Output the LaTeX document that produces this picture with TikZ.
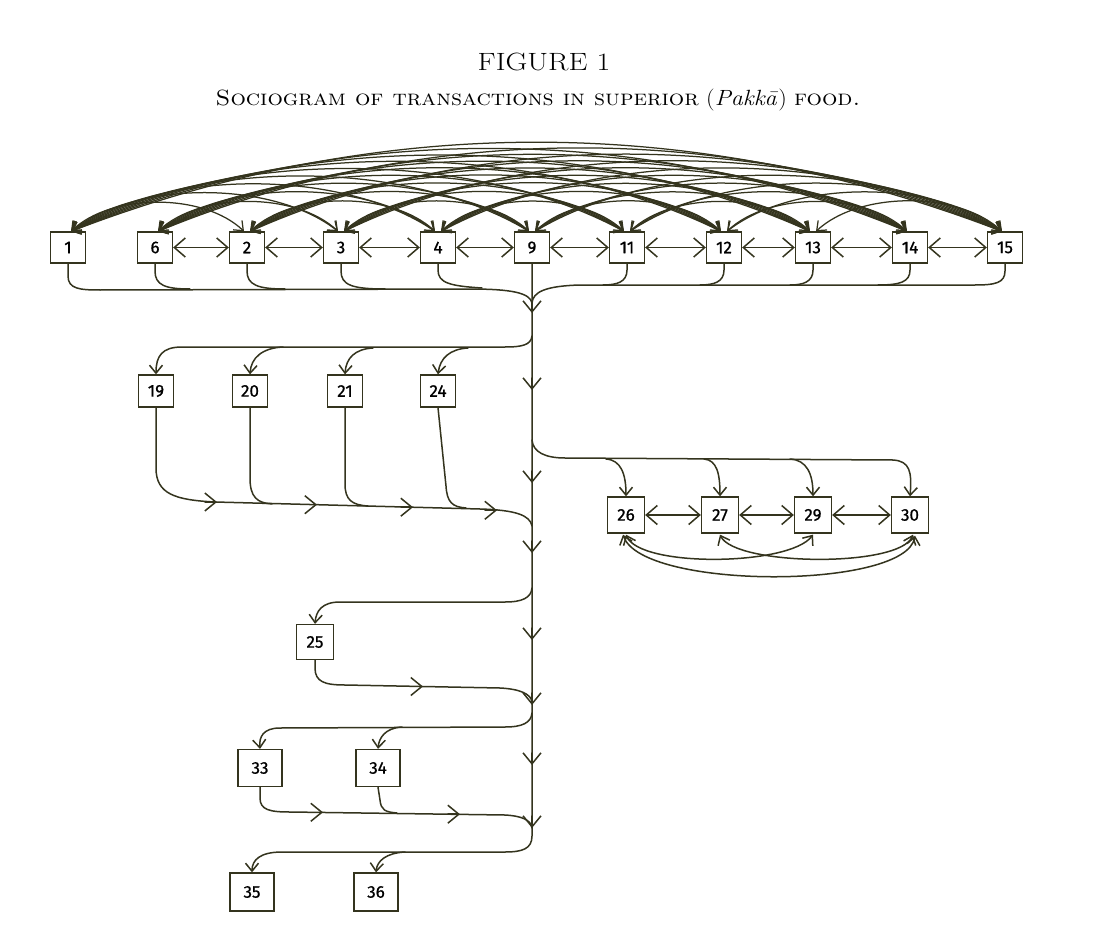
\documentclass[tikz,border=0pt]{standalone}
\usepackage{fontspec}
\newfontfamily\numfont{Fira Sans}[FakeBold=0.8]
\usetikzlibrary{arrows.meta,calc}
\definecolor{ink}{RGB}{52,52,30}
\begin{document}
\begin{tikzpicture}[x=1pt,y=-1pt,
  line/.style={draw=ink,line width=1.5pt,line cap=round,line join=round},
  arcline/.style={draw=ink,line width=1.25pt,line cap=round},
  et/.tip={Straight Barb[length=8pt,width=13pt]},
  mt/.tip={Straight Barb[length=11pt,width=18pt]},
  dt/.tip={Straight Barb[length=11pt,width=19pt]},
  box/.style={draw=ink,line width=1.3pt,minimum width=35pt,minimum height=32pt,inner sep=0pt,
    font=\numfont\fontsize{17}{17}\selectfont,text=black},
  tbox/.style={box,minimum height=31pt},
  mbox/.style={box,minimum width=37pt,minimum height=36pt},
  bbox/.style={box,minimum width=44pt,minimum height=37pt}]
\useasboundingbox[fill=white] (0,0) rectangle (1108,952);

% titles
\node[font=\fontsize{25}{25}\selectfont,text=black] (title) at (544,62) {\scalebox{1.2}[1]{FIGURE 1}};
\node[font=\fontsize{22}{22}\selectfont,text=black] (caption) at (538,100)
  {\scalebox{1.1}[1]{\textsc{Sociogram of transactions in superior} (\textit{Pakkā}) \textsc{food.}}};

% top row
\foreach \xx/\ll/\nn in {68/1/0,155/6/1,247/2/2,341/3/3,438/4/4,532/9/5,627/11/6,724/12/7,813/13/8,910/14/9,1005/15/10}
  \node[tbox] (t\nn) at (\xx,247.5) {\ll};

% second row
\node[box] (n19) at (156,391) {19};
\node[box] (n20) at (250,391) {20};
\node[box] (n21) at (345,391) {21};
\node[box] (n24) at (438,391) {24};
% right group
\node[mbox] (n26) at (626,515) {26};
\node[mbox] (n27) at (720,515) {27};
\node[mbox] (n29) at (813,515) {29};
\node[mbox] (n30) at (910,515) {30};
% lower
\node[mbox,minimum height=35pt] (n25) at (315,642) {25};
\node[bbox] (n33) at (260,768) {33};
\node[bbox] (n34) at (378,768) {34};
\node[bbox,minimum height=38pt] (n35) at (252,892) {35};
\node[bbox,minimum height=38pt] (n36) at (376,892) {36};

% top arcs
\def\xs{{68,155,247,341,438,532,627,724,813,910,1005}}
\foreach \i in {0,...,8}{
  \pgfmathtruncatemacro\js{\i+2}
  \foreach \j in {\js,...,10}{
    \pgfmathsetmacro\xa{\xs[\i]}
    \pgfmathsetmacro\xb{\xs[\j]}
    \pgfmathsetmacro\spn{\xb-\xa}
    \pgfmathsetmacro\hh{89*(\spn/937)^0.68}
    \pgfmathsetmacro\kk{\hh/0.75}
    \pgfmathsetmacro\cc{\spn*(0.2+0.13*\spn/937)}
    \draw[arcline,{et}-{et}] ($(t\i.north)+(3,0)$) .. controls ($(t\i.north)+(3+\cc,-\kk)$) and ($(t\j.north)+(-3-\cc,-\kk)$) .. ($(t\j.north)+(-3,0)$);
  }
}

% horizontal double arrows top row
\foreach \a/\b in {1/2,2/3,3/4,4/5,5/6,6/7,7/8,8/9,9/10}
  \draw[line,{dt}-{dt}] (t\a.east) -- (t\b.west);

% collecting buses of top row
\coordinate (m0) at (532,303);
\draw[line] (t0.south) -- (68,276) .. controls (68,289) and (80,290) .. (100,290) -- (470,289) .. controls (512,289) and (530,293) .. (m0);
\draw[line] (t1.south) -- (155,271) .. controls (155,285) and (165,289) .. (190,289);
\draw[line] (t2.south) -- (247,271) .. controls (247,285) and (258,289) .. (285,289);
\draw[line] (t3.south) -- (341,271) .. controls (341,285) and (352,289) .. (385,289);
\draw[line] (t4.south) -- (438,270) .. controls (438,283) and (450,286) .. (482,288);
\draw[line] (t10.south) -- (1005,271) .. controls (1005,283) and (995,285) .. (975,285) -- (580,285) .. controls (545,286) and (533,292) .. (m0);
\draw[line] (t9.south) -- (910,270) .. controls (910,282) and (900,285) .. (878,285);
\draw[line] (t8.south) -- (813,270) .. controls (813,282) and (803,285) .. (790,285);
\draw[line] (t7.south) -- (724,270) .. controls (724,282) and (714,285) .. (700,285);
\draw[line] (t6.south) -- (627,270) .. controls (627,282) and (617,285) .. (603,285);

% trunk
\draw[line,-{et}] (t5.south) -- (m0) -- (532,836) .. controls (532,849) and (522,852) .. (505,852) -- (282,852) .. controls (260,852) and (252,860) .. (n35.north);
\draw[line,-{et}] (405,852) .. controls (386,853) and (377,861) .. (n36.north);
\foreach \yy in {313,390,483,553,640,705,765,828}
  \draw[line,-{mt}] (532,\yy-12) -- (532,\yy);

% branch to 19-24
\draw[line,-{et}] (532,336) .. controls (531,345) and (522,347) .. (505,347) -- (182,347) .. controls (162,347) and (156,356) .. (n19.north);
\draw[line,-{et}] (283,347) .. controls (262,348) and (251,358) .. (n20.north);
\draw[line,-{et}] (373,348) .. controls (355,349) and (346,358) .. (n21.north);
\draw[line,-{et}] (468,348) .. controls (450,349) and (440,358) .. (n24.north);
% return from 19-24
\draw[line] (n19.south) -- (156,468) .. controls (156,494) and (175,500) .. (215,502) -- (480,509) .. controls (515,510) and (530,515) .. (532,526);
\draw[line] (n20.south) -- (250,478) .. controls (250,497) and (257,503) .. (272,504);
\draw[line] (n21.south) -- (345,484) .. controls (345,500) and (352,505) .. (368,506);
\draw[line] (n24.south) -- (446,486) .. controls (447,502) and (452,507) .. (466,508);
\foreach \xx/\yy in {217/502,317/504.7,413/507.2,497/510.3}
  \draw[line,-{mt}] (\xx-12,\yy) -- (\xx,\yy);

% branch to 26-30
\draw[line,-{et}] (532,440) .. controls (533,452) and (545,458) .. (565,458) -- (893,460) .. controls (910,461) and (912,472) .. (n30.north);
\draw[line,-{et}] (606,459) .. controls (621,460) and (626,474) .. (n26.north);
\draw[line,-{et}] (704,459) .. controls (717,460) and (720,474) .. (n27.north);
\draw[line,-{et}] (790,459) .. controls (807,460) and (813,474) .. (n29.north);
\draw[line,{dt}-{dt}] (n26.east) -- (n27.west);
\draw[line,{dt}-{dt}] (n27.east) -- (n29.west);
\draw[line,{dt}-{dt}] (n29.east) -- (n30.west);
\draw[line,{et}-{et}] ($(n26.south)+(0,1)$) .. controls (640,568) and (790,566) .. ($(n29.south)+(0,1)$);
\draw[line,{et}-{et}] ($(n27.south)+(0,1)$) .. controls (735,566) and (900,568) .. ($(n30.south)+(3,1)$);
\draw[line,{et}-{et}] ($(n26.south)+(-3,1)$) .. controls (642,590) and (906,590) .. ($(n30.south)+(5,2)$);

% branch to 25
\draw[line,-{et}] (532,588) .. controls (531,598) and (522,602) .. (505,602) -- (340,602) .. controls (322,602) and (316,611) .. (n25.north);
\draw[line] (n25.south) -- (315,668) .. controls (315,682) and (325,685) .. (345,685) -- (500,688) .. controls (520,689) and (531,694) .. (532,702);
\draw[line,-{mt}] (411,686.5) -- (423,686.5);

% branch to 33, 34
\draw[line,-{et}] (532,713) .. controls (531,723) and (522,727) .. (505,727) -- (280,728) .. controls (263,728) and (259,737) .. (n33.north);
\draw[line,-{et}] (402,727) .. controls (385,728) and (379,738) .. (n34.north);
\draw[line] (n33.south) -- (260,798) .. controls (260,810) and (270,812) .. (290,812) -- (505,815) .. controls (522,816) and (531,820) .. (532,828);
\draw[line] (n34.south) -- (380,800) .. controls (381,810) and (385,812) .. (397,813);
\draw[line,-{mt}] (311,812.3) -- (323,812.3);
\draw[line,-{mt}] (448,814.2) -- (460,814.2);
\end{tikzpicture}
\end{document}
